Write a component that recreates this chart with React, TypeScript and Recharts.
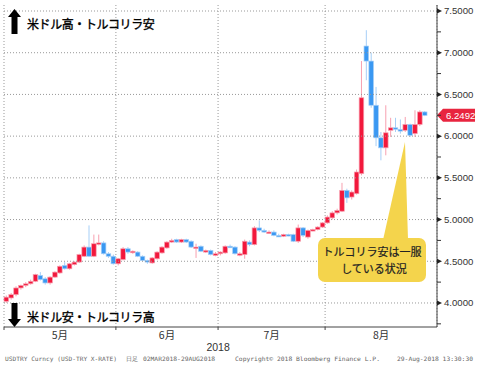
import React from 'react'
import { ComposedChart, Bar, XAxis, YAxis, CartesianGrid, ReferenceLine } from 'recharts'

// USD/TRY daily candles, weekdays 2018-05-01 .. 2018-08-29
const opens = [
  4.02, 4.06, 4.10, 4.18, 4.21, 4.23, 4.26, 4.33, 4.29, 4.24, 4.31, 4.36, 4.45, 4.41, 4.46, 4.49, 4.56, 4.67, 4.56, 4.71, 4.72, 4.59, 4.56,
  4.47, 4.52, 4.65, 4.61, 4.61, 4.56, 4.51, 4.48, 4.53, 4.60, 4.66, 4.73, 4.76, 4.73, 4.76, 4.74, 4.66, 4.68, 4.61, 4.63, 4.57,
  4.59, 4.60, 4.68, 4.67, 4.58, 4.58, 4.73, 4.70, 4.90, 4.87, 4.84, 4.85, 4.81, 4.80, 4.82, 4.82, 4.74, 4.90, 4.79, 4.87, 4.88, 4.91,
  4.96, 5.02, 5.08, 5.10, 5.35, 5.27, 5.31, 5.55, 7.08, 6.90, 6.37, 5.98, 5.86, 6.07, 6.10, 6.08, 6.07, 6.14, 6.03, 6.14, 6.29,
]
const highs = [
  4.09, 4.12, 4.20, 4.22, 4.25, 4.28, 4.35, 4.37, 4.31, 4.32, 4.38, 4.45, 4.49, 4.48, 4.50, 4.59, 4.69, 4.93, 4.82, 4.82, 4.74, 4.61, 4.58,
  4.54, 4.67, 4.67, 4.63, 4.62, 4.57, 4.52, 4.55, 4.62, 4.68, 4.74, 4.77, 4.77, 4.77, 4.77, 4.75, 4.71, 4.69, 4.64, 4.64, 4.61,
  4.62, 4.69, 4.70, 4.68, 4.61, 4.76, 4.75, 4.92, 4.99, 4.89, 4.87, 4.87, 4.83, 4.83, 4.83, 4.83, 4.94, 4.91, 4.88, 4.89, 4.92, 4.97,
  5.05, 5.10, 5.13, 5.44, 5.37, 5.35, 5.60, 6.90, 7.27, 7.00, 6.59, 6.05, 6.37, 6.22, 6.22, 6.20, 6.23, 6.15, 6.31, 6.31, 6.30,
]
const lows = [
  4.00, 4.04, 4.08, 4.16, 4.19, 4.22, 4.25, 4.27, 4.22, 4.22, 4.30, 4.35, 4.40, 4.40, 4.45, 4.48, 4.55, 4.55, 4.55, 4.69, 4.58, 4.54, 4.46,
  4.45, 4.51, 4.59, 4.59, 4.55, 4.50, 4.47, 4.47, 4.52, 4.59, 4.65, 4.72, 4.72, 4.72, 4.72, 4.66, 4.54, 4.61, 4.60, 4.57, 4.56,
  4.57, 4.59, 4.66, 4.58, 4.56, 4.53, 4.68, 4.69, 4.85, 4.84, 4.83, 4.80, 4.79, 4.79, 4.80, 4.73, 4.72, 4.79, 4.77, 4.86, 4.87, 4.90,
  4.95, 5.00, 5.06, 5.09, 5.20, 5.24, 5.30, 5.53, 6.67, 6.34, 5.88, 5.71, 5.77, 5.99, 6.05, 6.03, 6.05, 5.99, 5.99, 6.12, 6.24,
]
const closes = [
  4.07, 4.10, 4.18, 4.21, 4.23, 4.26, 4.34, 4.28, 4.24, 4.31, 4.37, 4.44, 4.41, 4.47, 4.49, 4.58, 4.67, 4.56, 4.71, 4.72, 4.59, 4.56, 4.47,
  4.53, 4.65, 4.61, 4.62, 4.56, 4.51, 4.49, 4.54, 4.61, 4.67, 4.73, 4.75, 4.73, 4.76, 4.73, 4.67, 4.67, 4.62, 4.63, 4.58, 4.59,
  4.61, 4.68, 4.67, 4.59, 4.59, 4.74, 4.70, 4.90, 4.87, 4.85, 4.85, 4.81, 4.80, 4.82, 4.81, 4.74, 4.90, 4.81, 4.87, 4.88, 4.91, 4.96,
  5.03, 5.08, 5.11, 5.35, 5.26, 5.33, 5.57, 6.46, 6.90, 6.37, 5.98, 5.86, 6.04, 6.10, 6.09, 6.06, 6.14, 6.01, 6.14, 6.29, 6.2492,
]

// axis: weekday slots through 2018-08-31, month starts as slot indices
const slotCount = 89
const monthStarts = [0, 23, 44, 66]
const monthMids = [11.5, 33.5, 55, 77.5]
const monthLabels = ['5月', '6月', '7月', '8月']
const yearTick = 44
const yearLabel = '2018'
const priceTicks = [3.75, 4, 4.25, 4.5, 4.75, 5, 5.25, 5.5, 5.75, 6, 6.25, 6.5, 6.75, 7, 7.25, 7.5]
const gridPrices = [4, 4.5, 5, 5.5, 6, 6.5, 7, 7.5]
const lastPrice = 6.2492

const days: string[] = []
for (let d = new Date(Date.UTC(2018, 4, 1)); days.length < opens.length; d.setUTCDate(d.getUTCDate() + 1)) {
  const wd = d.getUTCDay()
  if (wd !== 0 && wd !== 6) days.push(d.toISOString().slice(0, 10))
}

const data = days.map((day, i) => ({
  day,
  x: i + 0.5,
  open: opens[i],
  high: highs[i],
  low: lows[i],
  close: closes[i],
  range: [lows[i], highs[i]],
}))

const RED = '#f2183c'
const RED_SOFT = '#f7a0b0'
const BLUE = '#3a98f2'
const BLUE_SOFT = '#a6cff7'
const NUM_FONT = '"Liberation Sans", Arial, sans-serif'
const JP_FONT = '"Noto Sans CJK JP", sans-serif'

function Candle(props: any) {
  const { x, y, width, height, payload } = props
  if (!payload || height == null) return null
  const { open, close, high, low } = payload
  const top = Math.min(y, y + height)
  const h = Math.abs(height)
  const span = high - low || 1
  const toY = (v: number) => top + ((high - v) / span) * h
  const up = close >= open
  const bTop = toY(Math.max(open, close))
  const bBot = toY(Math.min(open, close))
  const cx = x + width / 2
  return (
    <g>
      <line x1={cx} x2={cx} y1={top} y2={top + h} stroke={up ? RED_SOFT : BLUE_SOFT} strokeWidth={1} />
      <rect
        x={x}
        y={bTop}
        width={width}
        height={Math.max(1.5, bBot - bTop)}
        fill={up ? RED : BLUE}
        stroke={up ? RED_SOFT : BLUE_SOFT}
        strokeWidth={0.7}
      />
    </g>
  )
}

function PriceTick(props: any) {
  const { x, y, payload } = props
  const v = payload.value
  const major = Math.abs(v * 2 - Math.round(v * 2)) < 1e-6
  if (!major) return <line x1={x} x2={x + 4} y1={y} y2={y} stroke="#333" />
  return (
    <g>
      <polygon points={`${x},${y - 2.5} ${x + 5},${y} ${x},${y + 2.5}`} fill="#222" />
      <text x={x + 7} y={y} dy="0.35em" fontSize={9.6} fontFamily={NUM_FONT} fill="#333">
        {v.toFixed(4)}
      </text>
    </g>
  )
}

function BoundaryTick(props: any) {
  const { x, y } = props
  return <line x1={x} x2={x} y1={y} y2={y + 3} stroke="#444" />
}

function PriceTag(props: any) {
  const vb = props.viewBox || {}
  const x0 = vb.x + vb.width
  const y0 = vb.y
  return (
    <g>
      <polygon
        points={`${x0},${y0} ${x0 + 6},${y0 - 6.5} ${x0 + 38},${y0 - 6.5} ${x0 + 38},${y0 + 6.5} ${x0 + 6},${y0 + 6.5}`}
        fill="#e8253f"
      />
      <text x={x0 + 9} y={y0} dy="0.35em" fontSize={9.6} fontFamily={NUM_FONT} fill="#fff">
        {lastPrice.toFixed(4)}
      </text>
    </g>
  )
}

export default function App() {
  return (
    <div style={{ position: 'absolute', left: 0, top: 0, width: 477, height: 367, background: '#fff' }}>
      <ComposedChart width={477} height={367} data={data} margin={{ top: 5, right: 0, bottom: 11, left: 4 }}>
        <CartesianGrid xAxisId="main" horizontal={false} stroke="#999" strokeDasharray="1 2" />
        {gridPrices.map((p) => (
          <ReferenceLine key={p} xAxisId="main" y={p} stroke="#999" strokeDasharray="1 2" />
        ))}
        <XAxis
          xAxisId="main"
          dataKey="x"
          type="number"
          domain={[0, slotCount]}
          ticks={monthStarts}
          interval={0}
          height={5}
          tickSize={0}
          tickMargin={0}
          tickLine={false}
          axisLine={{ stroke: '#444' }}
          tick={<BoundaryTick />}
        />
        <XAxis
          xAxisId="month"
          dataKey="x"
          type="number"
          domain={[0, slotCount]}
          ticks={monthMids}
          interval={0}
          height={12}
          tickSize={0}
          tickMargin={0}
          tickLine={false}
          axisLine={false}
          tickFormatter={(v: number) => monthLabels[monthMids.indexOf(v)]}
          tick={{ fontSize: 10.5, fontFamily: JP_FONT, fill: '#333' }}
        />
        <XAxis
          xAxisId="year"
          dataKey="x"
          type="number"
          domain={[0, slotCount]}
          ticks={[yearTick]}
          interval={0}
          height={12}
          tickSize={0}
          tickMargin={0}
          tickLine={false}
          axisLine={false}
          tickFormatter={() => yearLabel}
          tick={{ fontSize: 10.5, fontFamily: NUM_FONT, fill: '#333' }}
        />
        <YAxis
          orientation="right"
          type="number"
          domain={[3.712, 7.572]}
          allowDataOverflow
          ticks={priceTicks}
          interval={0}
          width={40}
          tickSize={0}
          tickMargin={0}
          tickLine={false}
          axisLine={{ stroke: '#444' }}
          tick={<PriceTick />}
        />
        <Bar xAxisId="main" dataKey="range" barSize={4.6} shape={(p: any) => <Candle {...p} />} isAnimationActive={false} />
        <ReferenceLine xAxisId="main" y={lastPrice} stroke="none" label={(p: any) => <PriceTag {...p} />} />
      </ComposedChart>

      <svg width={477} height={367} style={{ position: 'absolute', left: 0, top: 0, pointerEvents: 'none' }}>
        <path d="M14.5 9 L21 17 L17.5 17 L17.5 34 L11.5 34 L11.5 17 L8 17 Z" fill="#000" />
        <text x={27} y={29} fontSize={12} letterSpacing={-0.4} fontFamily={JP_FONT} fill="#000" stroke="#000" strokeWidth={0.35}>
          米ドル高・トルコリラ安
        </text>
        <path d="M11.5 303 L17.5 303 L17.5 319 L21 319 L14.5 327 L8 319 L11.5 319 Z" fill="#000" />
        <text x={27} y={322} fontSize={12} letterSpacing={-0.4} fontFamily={JP_FONT} fill="#000" stroke="#000" strokeWidth={0.35}>
          米ドル安・トルコリラ高
        </text>

        <polygon points="383,240 405,142 408,240" fill="#f4d44c" />
        <rect x={318} y={238} width={108} height={44} rx={7} fill="#f4d44c" />
        <text x={372} y={256} textAnchor="middle" fontSize={11} fontFamily={JP_FONT} fill="#222" stroke="#222" strokeWidth={0.2}>
          トルコリラ安は一服
        </text>
        <text x={374} y={273} textAnchor="middle" fontSize={11} fontFamily={JP_FONT} fill="#222" stroke="#222" strokeWidth={0.2}>
          している状況
        </text>

        <g fontSize={6} fontFamily='"DejaVu Sans Mono", monospace' fill="#666">
          <text x={5} y={361} textLength={112} lengthAdjust="spacingAndGlyphs">USDTRY Curncy (USD-TRY X-RATE)</text>
          <text x={126} y={361}>日足</text>
          <text x={143} y={361} textLength={72} lengthAdjust="spacingAndGlyphs">02MAR2018-29AUG2018</text>
          <text x={235} y={361} textLength={145} lengthAdjust="spacingAndGlyphs">Copyright© 2018 Bloomberg Finance L.P.</text>
          <text x={397} y={361} textLength={76} lengthAdjust="spacingAndGlyphs">29-Aug-2018 13:30:30</text>
        </g>
      </svg>
    </div>
  )
}
